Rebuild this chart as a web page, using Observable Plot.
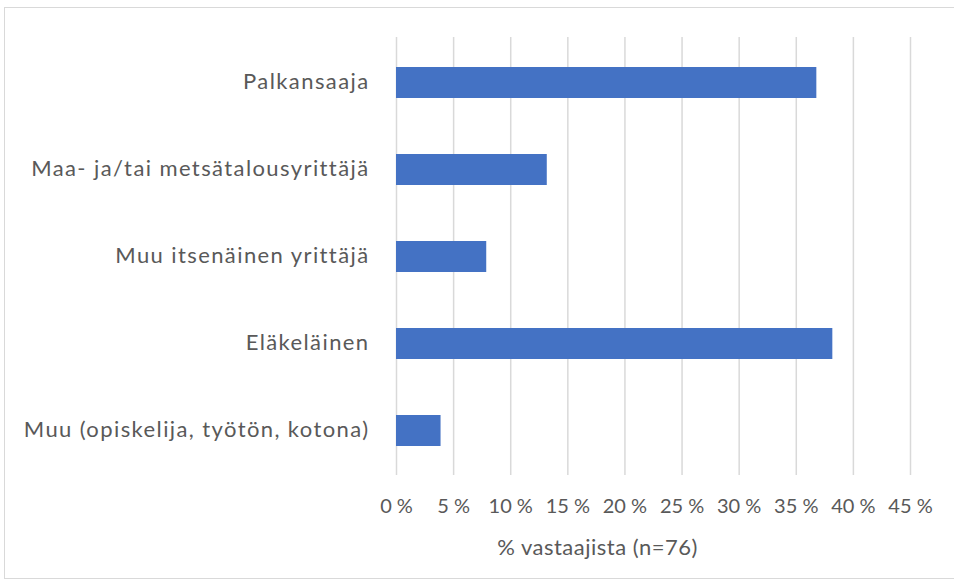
<!DOCTYPE html>
<html>
<head>
<meta charset="utf-8">
<script src="https://cdn.jsdelivr.net/npm/d3@7"></script>
<script src="https://cdn.jsdelivr.net/npm/@observablehq/plot@0.6"></script>
<style>
  html, body { margin: 0; padding: 0; background: #fff; }
  #wrap { position: relative; width: 954px; height: 585px; overflow: hidden; }
  #frame { position: absolute; left: 4px; top: 7px; width: 960px; height: 572px; border: 1.5px solid #d9d9d9; box-sizing: border-box; pointer-events: none; }
  svg { font-family: Lato, "Open Sans", sans-serif; }
  .ylab text { letter-spacing: 1.4px; }
  .xlab text { letter-spacing: 0.5px; }
</style>
</head>
<body>
<div id="wrap"><div id="frame"></div></div>
<script>
const categories = [
  "Palkansaaja",
  "Maa- ja/tai metsätalousyrittäjä",
  "Muu itsenäinen yrittäjä",
  "Eläkeläinen",
  "Muu (opiskelija, työtön, kotona)"
];
const values = [36.8, 13.2, 7.9, 38.2, 3.9];
const xTicks = [0, 5, 10, 15, 20, 25, 30, 35, 40, 45];
const xLabel = "% vastaajista (n=76)";

const data = categories.map((c, i) => ({category: c, value: values[i]}));

const chart = Plot.plot({
  width: 954,
  height: 585,
  marginLeft: 396,
  marginRight: 44,
  marginTop: 37,
  marginBottom: 110,
  style: {fontSize: "20px", color: "#595959", background: "transparent"},
  x: {domain: [0, 45], ticks: xTicks, tickFormat: d => d + " %", label: null, tickSize: 0, tickPadding: 22},
  y: {domain: categories, padding: 0, label: null, tickSize: 0, tickPadding: 28},
  marks: [
    Plot.gridX(xTicks, {stroke: "#d9d9d9", strokeOpacity: 1, strokeWidth: 1.5}),
    Plot.barX(data, {x: "value", y: "category", fill: "#4472C4", insetTop: 28, insetBottom: 28}),
    Plot.axisX({ticks: xTicks, tickFormat: d => d + " %", tickSize: 0, tickPadding: 23, label: null, fill: "#595959", fontSize: 20}),
    Plot.axisY({tickSize: 0, tickPadding: 27, label: null, fill: "#595959", fontSize: 22, dy: -1, className: "ylab"}),
    Plot.text([xLabel], {frameAnchor: "bottom", dx: -56, dy: 79, fill: "#595959", fontSize: 22, text: d => d, className: "xlab"})
  ]
});
document.getElementById("wrap").prepend(chart);
</script>
</body>
</html>
